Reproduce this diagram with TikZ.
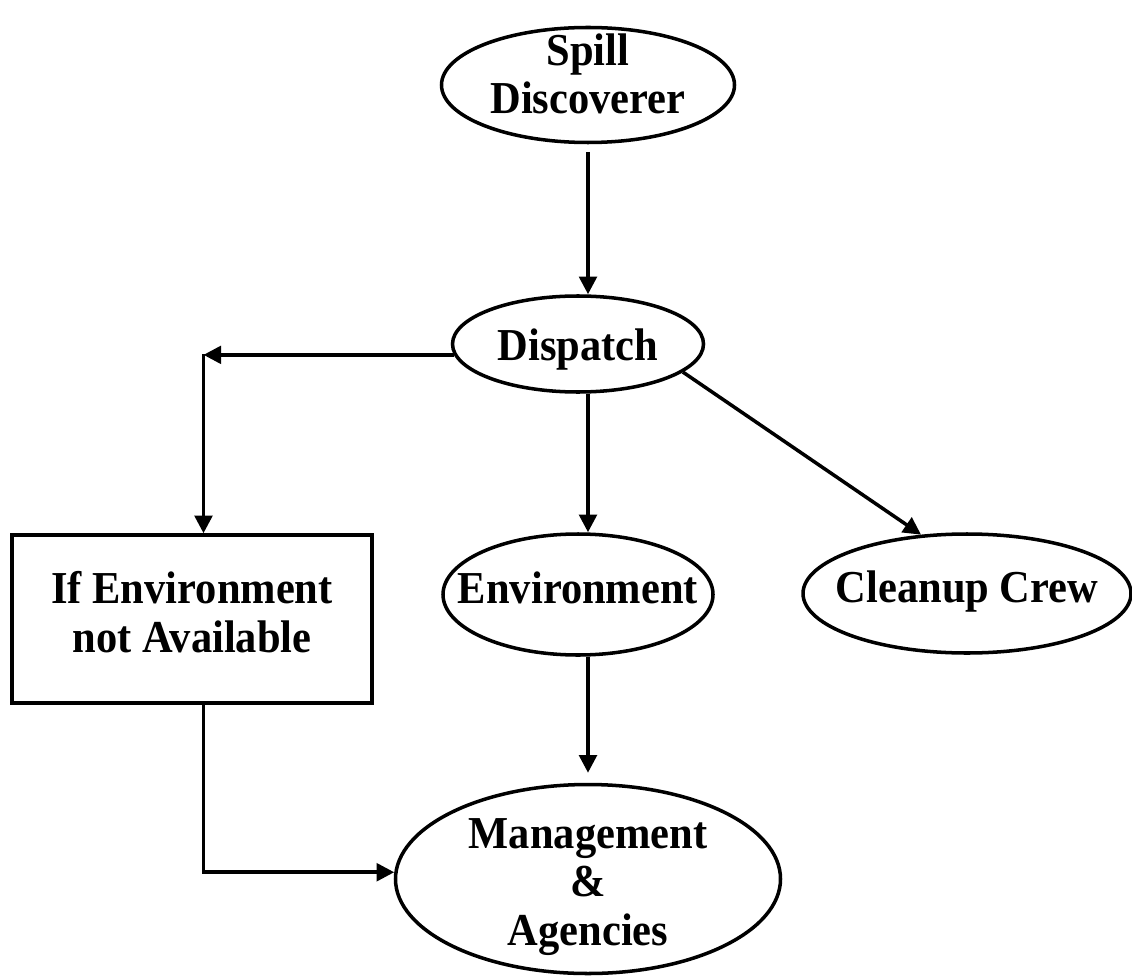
\documentclass[tikz,border=0pt]{standalone}
\usepackage{fontspec}
\setmainfont{Liberation Serif}[FakeStretch=0.93]
\usetikzlibrary{shapes.geometric,arrows.meta}
\begin{document}
\begin{tikzpicture}[
   every node/.style={font=\bfseries\fontsize{26}{27.5}\selectfont, align=center},
   oval/.style={draw, ellipse, line width=2pt, inner sep=-1cm},
   plain/.style={draw, rectangle, line width=2pt},
   arr/.style={-{Triangle[length=10pt,width=10pt]}, line width=2pt}
]
   \useasboundingbox (0,0) rectangle (22.64,-19.52);

   \node [oval, minimum width=5.86cm, minimum height=2.3cm, text height=1.5cm, text depth=0.34cm] (spill) at (11.76,-1.7) {Spill\\Discoverer};
   \node [oval, minimum width=5.02cm, minimum height=1.92cm, text height=0.8cm, text depth=0.16cm] (dispatch) at (11.56,-6.88) {Dispatch};
   \node [plain, minimum width=7.2cm, minimum height=3.36cm, text height=1.6cm, text depth=0.28cm] (notavail) at (3.84,-12.38) {If Environment\\not Available};
   \node [oval, minimum width=5.4cm, minimum height=2.42cm, text height=0.62cm, text depth=0.26cm] (env) at (11.56,-11.89) {Environment};
   \node [oval, minimum width=6.56cm, minimum height=2.38cm, text height=0.62cm, text depth=0.26cm] (crew) at (19.34,-11.87) {Cleanup Crew};
   \node [oval, minimum width=7.7cm, minimum height=3.78cm, text height=3.0cm, text depth=0.36cm] (mgmt) at (11.76,-17.58) {Management\\\&\\Agencies};
   \coordinate (lft) at (4.07,-7.08);

   \draw [arr, shorten <=0.15cm] (spill.south) -- (dispatch.north -| spill.south);
   \draw [arr] (dispatch.185) -- (dispatch.185 -| lft);
   \draw [arr] (lft) -- (lft |- notavail.north);
   \draw [arr] (dispatch.south -| spill.south) -- (env.north -| spill.south);
   \draw [arr] (dispatch.-15) -- (crew.128);
   \draw [arr, shorten >=0.2cm] (env.south -| mgmt.north) -- (mgmt.north);
   \draw [arr] (lft |- notavail.south) |- (mgmt.178);
\end{tikzpicture}
\end{document}
